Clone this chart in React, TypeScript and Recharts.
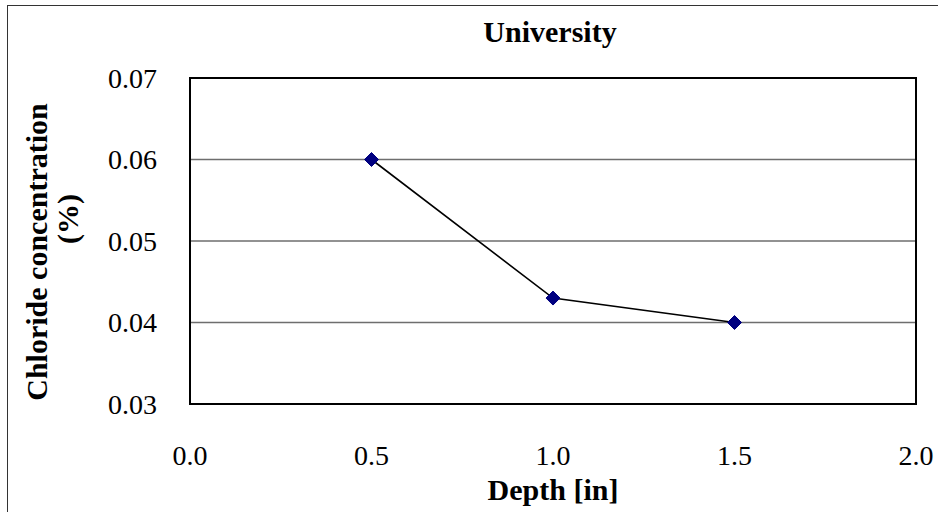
import React from 'react';
import { LineChart, Line, XAxis, YAxis, CartesianGrid, ReferenceArea } from 'recharts';

const depths = [0.5, 1.0, 1.5];
const chloride = [0.06, 0.043, 0.04];
const xTicks = [0, 0.5, 1.0, 1.5, 2.0];
const yTicks = [0.03, 0.04, 0.05, 0.06, 0.07];

const data = depths.map((d, i) => ({ depth: d, value: chloride[i] }));

const FONT = '"Liberation Serif", "Times New Roman", serif';

const Diamond = (props: any) => {
  const { cx, cy, index } = props;
  if (cx == null || cy == null) return null;
  const r = 7;
  return (
    <polygon
      key={`d-${index}`}
      points={`${cx},${cy - r} ${cx + r},${cy} ${cx},${cy + r} ${cx - r},${cy}`}
      fill="#000080"
      stroke="#000080"
    />
  );
};

export default function App() {
  return (
    <div style={{ position: 'absolute', left: 0, top: 0, width: 938, height: 512, overflow: 'hidden', background: '#fff' }}>
      <div style={{ position: 'absolute', left: 7, top: 5, width: 960, height: 540, border: '1.5px solid #333', boxSizing: 'border-box' }} />
      <div style={{ position: 'absolute', left: 0, top: 0 }}>
        <LineChart
          width={938}
          height={512}
          data={data}
          margin={{ top: 78, right: 22, bottom: 0, left: 0 }}
        >
          <CartesianGrid vertical={false} stroke="#6e6e6e" strokeWidth={1.5} />
          <XAxis
            dataKey="depth"
            type="number"
            domain={[0, 2]}
            ticks={xTicks}
            tickFormatter={(v: number) => v.toFixed(1)}
            height={108}
            axisLine={{ stroke: '#000', strokeWidth: 2 }}
            tickLine={false}
            tickSize={6}
            tickMargin={35}
            tick={{ fill: '#000', fontSize: 28, fontFamily: FONT }}
          />
          <YAxis
            type="number"
            domain={[0.03, 0.07]}
            ticks={yTicks}
            tickFormatter={(v: number) => v.toFixed(2)}
            width={190}
            axisLine={{ stroke: '#000', strokeWidth: 2 }}
            tickLine={false}
            tickSize={6}
            tickMargin={27}
            tick={{ fill: '#000', fontSize: 28, fontFamily: FONT }}
          />
          <ReferenceArea x1={0} x2={2} y1={0.03} y2={0.07} fill="none" stroke="#000" strokeWidth={2} />
          <Line
            dataKey="value"
            stroke="#000"
            strokeWidth={1.6}
            dot={Diamond}
            activeDot={false}
            isAnimationActive={false}
          />
        </LineChart>
      </div>
      <svg width={938} height={512} style={{ position: 'absolute', left: 0, top: 0, pointerEvents: 'none' }}>
        <text x={550} y={42} textAnchor="middle" fontFamily={FONT} fontWeight="bold" fontSize={30} fill="#000">
          University
        </text>
        <text x={553} y={500} textAnchor="middle" fontFamily={FONT} fontWeight="bold" fontSize={30} fill="#000">
          Depth [in]
        </text>
        <text
          transform="translate(47,252) rotate(-90)"
          textAnchor="middle"
          fontFamily={FONT}
          fontWeight="bold"
          fontSize={30}
          fill="#000"
        >
          Chloride concentration
        </text>
        <text
          transform="translate(78,219) rotate(-90)"
          textAnchor="middle"
          fontFamily={FONT}
          fontWeight="bold"
          fontSize={30}
          fill="#000"
        >
          (%)
        </text>
      </svg>
    </div>
  );
}
